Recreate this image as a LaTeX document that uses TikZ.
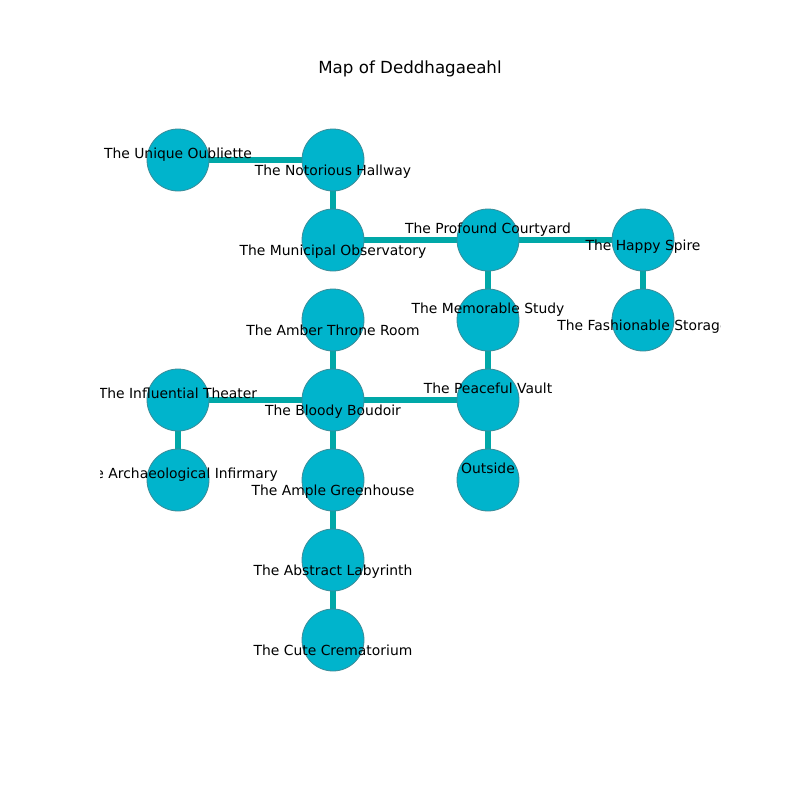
\documentclass[tikz,border=0pt]{standalone}
\usepackage{fontspec}
\setmainfont{DejaVu Sans}
\usetikzlibrary{backgrounds}
\definecolor{nodefill}{HTML}{00B4CC}
\definecolor{edgecol}{HTML}{00A8A8}
\definecolor{nodeline}{HTML}{3A8C99}
\begin{document}
\begin{tikzpicture}[x=1pt,y=-1pt,
  room/.style={circle,fill=nodefill,draw=nodeline,line width=0.8pt,minimum size=62pt,inner sep=0pt},
  link/.style={draw=edgecol,line width=5.5pt},
  lbl/.style={font=\fontsize{13.89}{16}\selectfont,inner sep=0pt,anchor=center,text height=10.3pt,text depth=3.2pt,yshift=-2pt},
  ttl/.style={font=\fontsize{16.67}{19}\selectfont,inner sep=0pt,anchor=center,text height=12.4pt,text depth=3.8pt,yshift=-2pt}]
\useasboundingbox (0,0) rectangle (800,800);
\node[ttl] (title) at (410,67) {Map of Deddhagaeahl};
% rooms
\node[room] (oub) at (178,160) {};
\node[room] (hall) at (333,160) {};
\node[room] (obs) at (333,240) {};
\node[room] (court) at (488,240) {};
\node[room] (spire) at (643,240) {};
\node[room] (stor) at (643,320) {};
\node[room] (study) at (488,320) {};
\node[room] (amber) at (333,320) {};
\node[room] (theater) at (178,400) {};
\node[room] (boudoir) at (333,400) {};
\node[room] (vault) at (488,400) {};
\node[room] (infirm) at (178,480) {};
\node[room] (green) at (333,480) {};
\node[room] (outside) at (488,480) {};
\node[room] (laby) at (333,560) {};
\node[room] (crem) at (333,640) {};
% connections
\begin{scope}[on background layer]
\draw[link] (oub.center) -- (hall.center);
\draw[link] (hall.center) -- (obs.center);
\draw[link] (obs.center) -- (court.center);
\draw[link] (court.center) -- (spire.center);
\draw[link] (spire.center) -- (stor.center);
\draw[link] (court.center) -- (study.center);
\draw[link] (study.center) -- (vault.center);
\draw[link] (vault.center) -- (outside.center);
\draw[link] (amber.center) -- (boudoir.center);
\draw[link] (theater.center) -- (boudoir.center);
\draw[link] (theater.center) -- (infirm.center);
\draw[link] (boudoir.center) -- (vault.center);
\draw[link] (boudoir.center) -- (green.center);
\draw[link] (green.center) -- (laby.center);
\draw[link] (laby.center) -- (crem.center);
\end{scope}
% labels
\begin{scope}
\clip (100,96) rectangle (720,712);
\node[lbl] (oubL) at (178,153) {The Unique Oubliette};
\node[lbl] (hallL) at (333,170) {The Notorious Hallway};
\node[lbl] (obsL) at (333,250) {The Municipal Observatory};
\node[lbl] (courtL) at (488,228) {The Profound Courtyard};
\node[lbl] (spireL) at (643,245) {The Happy Spire};
\node[lbl] (storL) at (643,325) {The Fashionable Storage};
\node[lbl] (studyL) at (488,308) {The Memorable Study};
\node[lbl] (amberL) at (333,330) {The Amber Throne Room};
\node[lbl] (theaterL) at (178,393) {The Influential Theater};
\node[lbl] (boudoirL) at (333,410) {The Bloody Boudoir};
\node[lbl] (vaultL) at (488,388) {The Peaceful Vault};
\node[lbl] (infirmL) at (178,473) {The Archaeological Infirmary};
\node[lbl] (greenL) at (333,490) {The Ample Greenhouse};
\node[lbl] (outsideL) at (488,468) {Outside};
\node[lbl] (labyL) at (333,570) {The Abstract Labyrinth};
\node[lbl] (cremL) at (333,650) {The Cute Crematorium};
\end{scope}
\end{tikzpicture}
\end{document}
